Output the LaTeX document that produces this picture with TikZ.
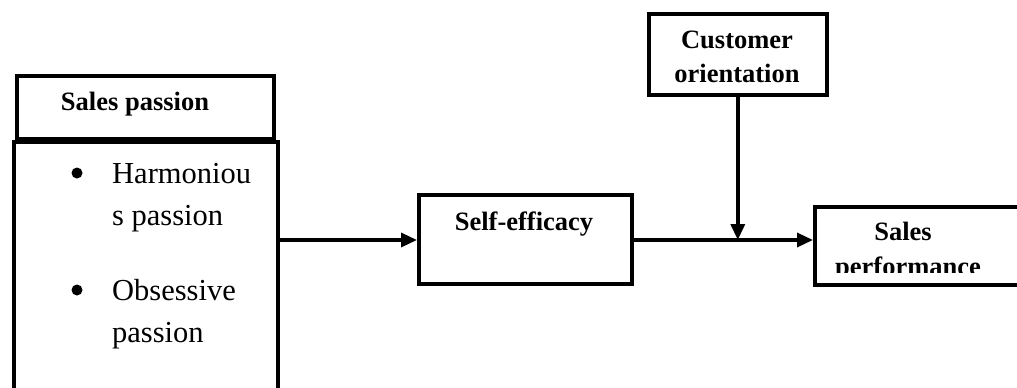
\documentclass[tikz,border=0pt]{standalone}
\usepackage{fontspec}
\setmainfont{Liberation Serif}
\usetikzlibrary{arrows.meta}
\begin{document}
\begin{tikzpicture}[x=1pt,y=-1pt,
  box/.style={draw, line width=3.6pt, inner sep=0pt, anchor=north west},
  lbl/.style={font=\fontsize{26.5}{30}\selectfont\bfseries, anchor=base, inner sep=0pt},
  txt/.style={font=\fontsize{30.5}{34}\selectfont, anchor=base west, inner sep=0pt},
  dot/.style={circle, fill, inner sep=0pt, minimum size=11pt},
  conn/.style={line width=3.4pt, -{Triangle[length=16pt,width=14pt]}}]
\useasboundingbox (0,0) rectangle (1017,388);
\clip (0,0) rectangle (1017,388);
% boxes
\node[box, minimum width=257pt, minimum height=63pt] (hdr) at (15,74) {};
\node[box, minimum width=264pt, minimum height=260pt] (body) at (12,140) {};
\node[box, minimum width=213pt, minimum height=89pt] (se) at (417,193) {};
\node[box, minimum width=178pt, minimum height=81pt] (co) at (647,12) {};
\node[box, minimum width=230pt, minimum height=78pt] (sp) at (813,205) {};
% texts
\node[lbl] (hdrt) at (135,110) {Sales passion};
\node[dot] (b1) at (77,173) {};
\node[txt] (h1) at (112,183) {Harmoniou};
\node[txt] (h2) at (112,225) {s passion};
\node[dot] (b2) at (77,290) {};
\node[txt] (o1) at (112,300) {Obsessive};
\node[txt] (o2) at (112,342) {passion};
\node[lbl] (set) at (524,230) {Self-efficacy};
\node[lbl] (co1) at (737,48) {Customer};
\node[lbl] (co2) at (737,82) {orientation};
\node[lbl] (sp1) at (903,240) {Sales};
\begin{scope}
\clip (813,250) rectangle (1017,272);
\node[lbl] (sp2) at (908,275) {performance};
\end{scope}
% connectors
\coordinate (ay) at (0,240);
\coordinate (j) at (co.south |- ay);
\draw[conn] (body.east |- ay) -- (se.west |- ay);
\draw[conn] (se.east |- ay) -- (sp.west |- ay);
\draw[conn] (co.south) -- (j);
\end{tikzpicture}
\end{document}
